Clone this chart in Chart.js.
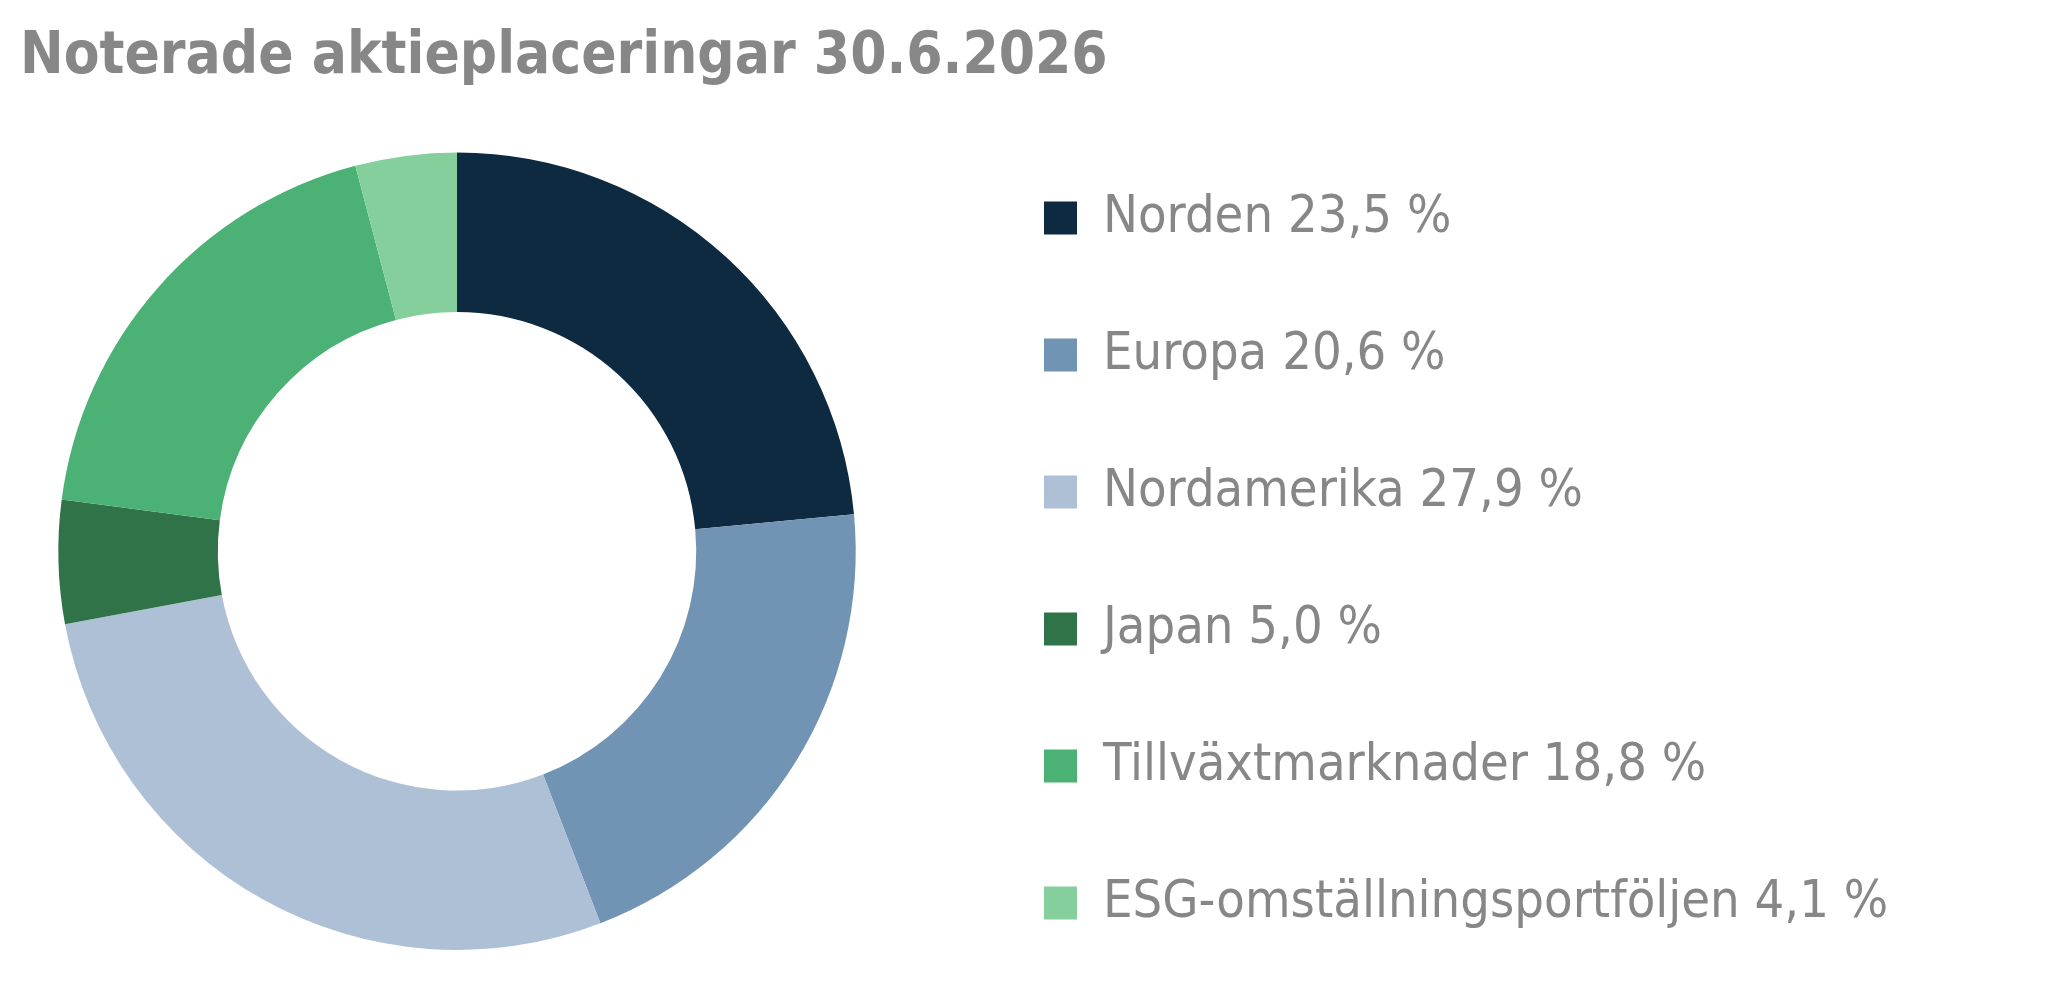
<!DOCTYPE html>
<html>
<head>
<meta charset="utf-8">
<script src="https://cdn.jsdelivr.net/npm/chart.js@4.4.1/dist/chart.umd.min.js"></script>
<style>
  html, body { margin: 0; padding: 0; background: #ffffff; }
  #wrap { position: relative; width: 2058px; height: 982px; }
</style>
</head>
<body>
<div id="wrap"><canvas id="c"></canvas></div>
<script>
// ---- data ----
const titleText = 'Noterade aktieplaceringar 30.6.2026';
const categories = ['Norden', 'Europa', 'Nordamerika', 'Japan', 'Tillväxtmarknader', 'ESG-omställningsportföljen'];
const shares = [23.5, 20.6, 27.9, 5.0, 18.8, 4.1];
const sliceColors = ['#0e2a40', '#7193b4', '#aec0d5', '#317349', '#4bb174', '#84cf9b'];

const legendLabels = categories.map((c, i) => c + ' ' + shares[i].toFixed(1).replace('.', ',') + ' %');

const TEXT_GREY = '#878787';
const FONT = "'DejaVu Sans Condensed', 'DejaVu Sans', sans-serif";
const LEGEND_PAD = 85;
const LEGEND_X = 1044;      // left of first legend box
const LEGEND_TOP = 192;     // top of first legend item

// moves the legend block to its place beside the doughnut
const legendPlacer = {
  id: 'legendPlacer',
  afterLayout(chart) {
    const lg = chart.legend;
    if (!lg) return;
    const dx = LEGEND_X - (lg.left + LEGEND_PAD);
    const dy = LEGEND_TOP - (lg.top + LEGEND_PAD);
    lg.left += dx;
    lg.top += dy;
    lg.bottom += dy;
    lg.right = chart.width;
    lg.width = lg.right - lg.left;
  }
};

new Chart(document.getElementById('c'), {
  type: 'doughnut',
  data: {
    labels: legendLabels,
    datasets: [{
      data: shares,
      backgroundColor: sliceColors,
      borderWidth: 0,
      hoverOffset: 0,
      offset: 0
    }]
  },
  options: {
    responsive: true,
    maintainAspectRatio: false,
    animation: false,
    devicePixelRatio: 1,
    cutout: '60%',
    rotation: 0,
    layout: { padding: { left: 20, right: 764, top: 0, bottom: 32 } },
    plugins: {
      tooltip: { enabled: false },
      title: {
        display: true,
        text: titleText,
        align: 'start',
        color: TEXT_GREY,
        font: { family: FONT, size: 58, weight: 'bold' },
        padding: { top: 23, bottom: 60 }
      },
      legend: {
        display: true,
        position: 'right',
        align: 'start',
        maxWidth: 400,
        labels: {
          color: TEXT_GREY,
          font: { family: FONT, size: 52 },
          boxWidth: 33,
          boxHeight: 33,
          padding: LEGEND_PAD
        }
      }
    }
  },
  plugins: [legendPlacer]
});
</script>
</body>
</html>
